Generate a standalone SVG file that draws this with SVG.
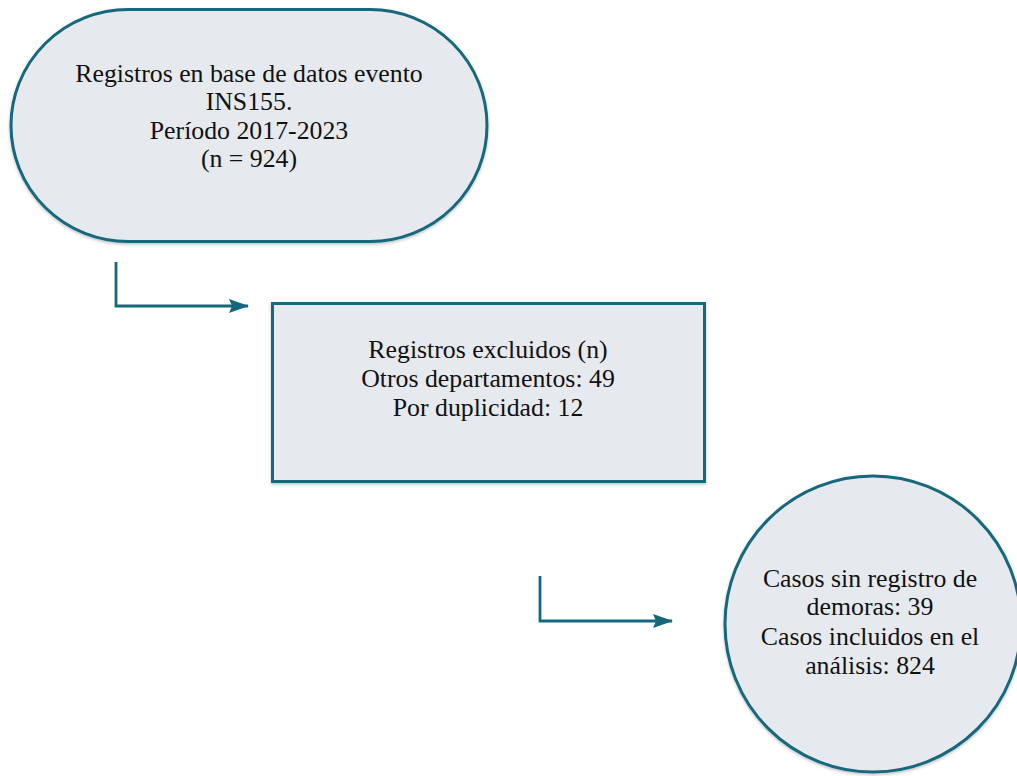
<svg xmlns="http://www.w3.org/2000/svg" width="1017" height="776" viewBox="0 0 1017 776">
<style>
.node{fill:#e6e9ee;stroke:#15687b;stroke-width:3}
.lbl{font-family:"Liberation Serif","Times New Roman",serif;font-size:25.8px;fill:#111;text-anchor:middle}
.conn{fill:none;stroke:#15687b;stroke-width:2.8}
</style>
<defs>
<marker id="arr" viewBox="0 0 20 14" refX="19" refY="7" markerWidth="20" markerHeight="14" markerUnits="userSpaceOnUse" orient="auto">
<path d="M0,0 L20,7 L0,14 L3,7 Z" fill="#15687b"/>
</marker>
<filter id="sh" x="-5%" y="-5%" width="110%" height="115%">
<feDropShadow dx="0" dy="1.5" stdDeviation="1.5" flood-color="#000" flood-opacity="0.25"/>
</filter>
</defs>
<g id="start">
<rect class="node" x="11" y="9.5" width="476" height="232" rx="117" ry="116" filter="url(#sh)"/>
<text class="lbl" x="249" y="82">Registros en base de datos evento</text>
<text class="lbl" x="249" y="110">INS155.</text>
<text class="lbl" x="249" y="139">Período 2017-2023</text>
<text class="lbl" x="249" y="167">(n = 924)</text>
</g>
<g id="excluded">
<rect class="node" x="272.5" y="303.5" width="432" height="178" filter="url(#sh)"/>
<text class="lbl" x="488" y="358">Registros excluidos (n)</text>
<text class="lbl" x="488" y="387">Otros departamentos: 49</text>
<text class="lbl" x="488" y="416">Por duplicidad: 12</text>
</g>
<g id="included">
<circle class="node" cx="873" cy="624" r="148" filter="url(#sh)"/>
<text class="lbl" x="870" y="587">Casos sin registro de</text>
<text class="lbl" x="870" y="615">demoras: 39</text>
<text class="lbl" x="870" y="645">Casos incluidos en el</text>
<text class="lbl" x="870" y="674">análisis: 824</text>
</g>
<g id="connectors">
<path class="conn" d="M116,262 V306 H248" marker-end="url(#arr)"/>
<path class="conn" d="M540,576 V621 H672" marker-end="url(#arr)"/>
</g>
</svg>
